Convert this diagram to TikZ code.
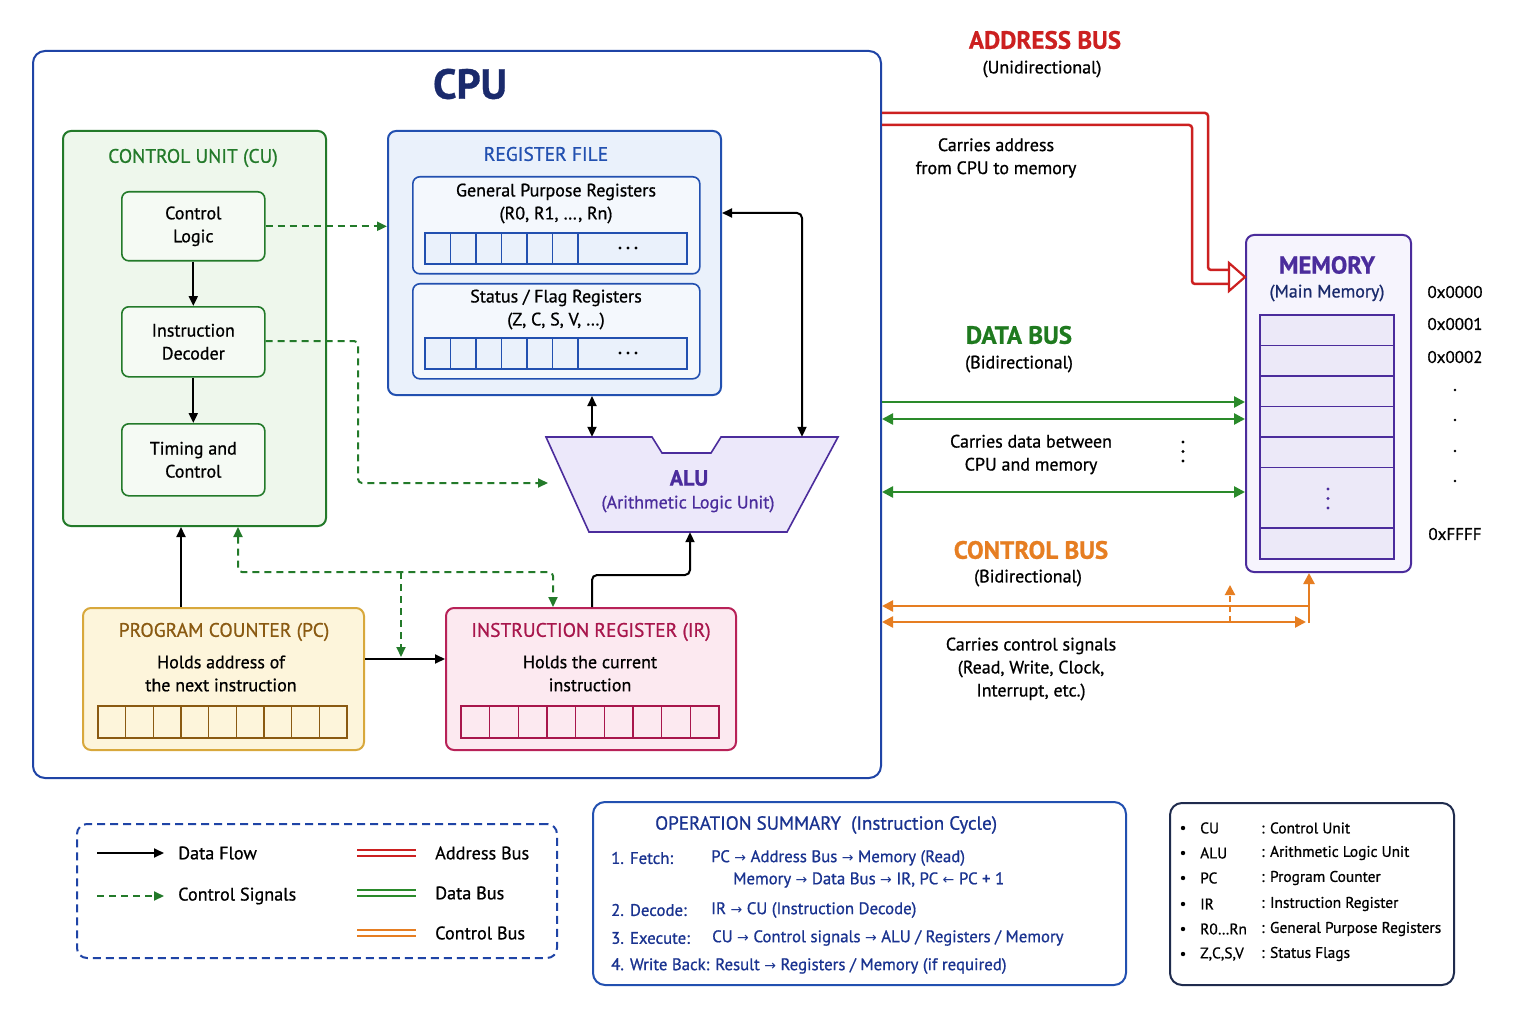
\documentclass[tikz,border=0pt]{standalone}
\usepackage{fontspec}
\setmainfont{PT Sans}[FakeBold=0.8]
\newfontfamily\symf{DejaVu Sans}
\usetikzlibrary{arrows.meta,calc}
\newcommand\ar{{\symf\fontsize{14}{14}\selectfont →}}
\newcommand\al{{\symf\fontsize{14}{14}\selectfont ←}}
\definecolor{cpublue}{HTML}{1F44A6}
\definecolor{navy}{HTML}{1A2A6C}
\definecolor{cugreen}{HTML}{237A2A}
\definecolor{cufill}{HTML}{EEF7EC}
\definecolor{rfblue}{HTML}{2250B0}
\definecolor{rffill}{HTML}{EAF1FB}
\definecolor{alupurple}{HTML}{4B2C9C}
\definecolor{alufill}{HTML}{ECE8FA}
\definecolor{pcgold}{HTML}{D8A83C}
\definecolor{pcfill}{HTML}{FDF5DB}
\definecolor{pctext}{HTML}{8A5A12}
\definecolor{irred}{HTML}{B82258}
\definecolor{irfill}{HTML}{FCE9F0}
\definecolor{irtext}{HTML}{A8164C}
\definecolor{abred}{HTML}{CC2020}
\definecolor{dbgreen}{HTML}{2A8A2A}
\definecolor{dbtitle}{HTML}{1F7A1F}
\definecolor{cborange}{HTML}{E67E22}
\definecolor{memfill}{HTML}{F6F4FD}
\definecolor{cellfill}{HTML}{ECE9F8}
\definecolor{opblue}{HTML}{1A3390}
\definecolor{abbrbox}{HTML}{1F2B4D}
\begin{document}
\begin{tikzpicture}[x=1pt,y=-1pt,
  font=\fontsize{18}{23}\selectfont,
  box/.style={draw, rounded corners=8pt, line width=2pt, anchor=north west, inner sep=0pt},
  ibox/.style={draw, rounded corners=7pt, line width=1.6pt, anchor=north west, inner sep=0pt, align=center},
  head/.style={font=\fontsize{19.5}{22}\selectfont},
  bustitle/.style={font=\bfseries\fontsize{25}{28}\selectfont},
  txt/.style={align=center, inner sep=0pt},
  darr/.style={draw=black, line width=2pt, -{Triangle[length=10pt,width=9pt]}},
  dboth/.style={draw=black, line width=2pt, {Triangle[length=10pt,width=9pt]}-{Triangle[length=10pt,width=9pt]}},
  cdash/.style={draw=cugreen, line width=2pt, dash pattern=on 7pt off 5pt, -{Triangle[length=10pt,width=9pt]}},
  cdboth/.style={draw=cugreen, line width=2pt, dash pattern=on 7pt off 5pt, {Triangle[length=10pt,width=9pt]}-{Triangle[length=10pt,width=9pt]}},
  abus/.style={draw=abred, line width=2.5pt},
  dbus/.style={draw=dbgreen, line width=2.5pt},
  cbus/.style={draw=cborange, line width=2.5pt},
  lbl/.style={anchor=west, inner sep=0pt}
]
\useasboundingbox[fill=white] (0,0) rectangle (1536,1024);

% ---------------- CPU ----------------
\node[box, draw=cpublue, fill=white, rounded corners=12pt, minimum width=848, minimum height=727] (cpu) at (32,50) {};
\node[font=\bfseries\fontsize{42}{44}\selectfont, text=navy, txt] (cputitle) at (470,84) {CPU};

% Control unit
\node[box, draw=cugreen, fill=cufill, minimum width=263, minimum height=395] (cu) at (62,130) {};
\node[head, text=cugreen, txt] (cuttl) at (193,158) {CONTROL UNIT (CU)};
\node[ibox, draw=cugreen, fill=cufill!60!white, minimum width=143, minimum height=69] (cl) at (121,191) {Control\\Logic};
\node[ibox, draw=cugreen, fill=cufill!60!white, minimum width=143, minimum height=70] (id) at (121,306) {Instruction\\Decoder};
\node[ibox, draw=cugreen, fill=cufill!60!white, minimum width=143, minimum height=72] (tc) at (121,423) {Timing and\\Control};
\draw[darr] (cl.south) -- (id.north);
\draw[darr] (id.south) -- (tc.north);

% Register file
\node[box, draw=rfblue, fill=rffill, minimum width=333, minimum height=264] (rf) at (387,130) {};
\node[head, text=rfblue, txt] (rfttl) at (546,154) {REGISTER FILE};
\node[ibox, draw=rfblue, fill=rffill!50!white, minimum width=287, minimum height=97] (gpr) at (412,176) {};
\node[txt] (gprt) at (556,203.5) {General Purpose Registers\\(R0, R1, \dots, Rn)};
\node[ibox, draw=rfblue, fill=rffill!50!white, minimum width=287, minimum height=95] (sfr) at (412,283) {};
\node[txt] (sfrt) at (556,309.5) {Status / Flag Registers\\(Z, C, S, V, \dots)};
\foreach \yy in {233,338}{
  \draw[rfblue, line width=1.3pt, fill=rffill] (425,\yy) rectangle (687,\yy+31);
  \foreach \i in {1,2,3,4,5,6}{ \draw[rfblue, line width=1.3pt] (425+25.5*\i,\yy) -- (425+25.5*\i,\yy+31); }
  \foreach \xx in {620,628,636}{ \fill[black] (\xx,\yy+15) circle (1.6pt); }
}

% ALU
\draw[line width=1.6pt, draw=alupurple, fill=alufill] (546,437) -- (652,437) -- (662,453) -- (711,453) -- (721,437) -- (838,437) -- (787,532) -- (589,532) -- cycle;
\node[minimum width=292, minimum height=95, inner sep=0pt] (alu) at (692,484.5) {};
\node[txt, text=alupurple, font=\bfseries\fontsize{22}{23}\selectfont] (alut) at (689,478) {ALU};
\node[txt, text=alupurple] (alus) at (688,504) {(Arithmetic Logic Unit)};

% PC and IR
\node[box, draw=pcgold, fill=pcfill, minimum width=281, minimum height=142] (pc) at (82,607) {};
\node[head, text=pctext, txt] (pcttl) at (224,632) {PROGRAM COUNTER (PC)};
\node[txt] (pct) at (221,673.5) {Holds address of\\the next instruction};
\draw[pctext, line width=1.2pt] (98,706) rectangle (347,738);
\foreach \i in {1,2,3,4,5,6,7,8}{ \draw[pctext, line width=1.2pt] (98+27.67*\i,706) -- (98+27.67*\i,738); }

\node[box, draw=irred, fill=irfill, minimum width=290, minimum height=142] (ir) at (445,607) {};
\node[head, text=irtext, txt] (irttl) at (591,632) {INSTRUCTION REGISTER (IR)};
\node[txt] (irt) at (590,673.5) {Holds the current\\instruction};
\draw[irtext, line width=1.2pt] (461,706) rectangle (719,738);
\foreach \i in {1,2,3,4,5,6,7,8}{ \draw[irtext, line width=1.2pt] (461+28.67*\i,706) -- (461+28.67*\i,738); }

% internal connectors
\coordinate (x592) at (592,0);
\draw[dboth] (x592 |- rf.south) -- (x592 |- alu.north);
\coordinate (r1) at (802,213);
\draw[dboth, rounded corners=5pt] (rf.east |- r1) -- (r1) -- (r1 |- alu.north);
\draw[cdash] (cl.east) -- (cl.east -| rf.west);
\coordinate (k1) at (358,341);
\coordinate (k2) at (358,483);
\coordinate (k3) at (548,483);
\draw[cdash, rounded corners=4pt] (id.east |- k1) -- (k1) -- (k2) -- (k3);
\coordinate (x181) at (181,0);
\draw[darr] (x181 |- pc.north) -- (x181 |- cu.south);
\coordinate (g1) at (238,572);
\coordinate (g2) at (553,572);
\coordinate (g3) at (401,572);
\coordinate (g4) at (401,657);
\draw[cdboth, rounded corners=4pt] (g1 |- cu.south) -- (g1) -- (g2) -- (g2 |- ir.north);
\draw[cdash] (g3) -- (g4);
\coordinate (p1) at (0,659);
\draw[darr] (pc.east |- p1) -- (ir.west |- p1);
\coordinate (i1) at (592,575);
\coordinate (i2) at (690,575);
\draw[darr, rounded corners=5pt] (i1 |- ir.north) -- (i1) -- (i2) -- (i2 |- alu.south);

% ---------------- Memory ----------------
\node[box, draw=alupurple, fill=memfill, minimum width=165, minimum height=337] (mem) at (1245,234) {};
\node[font=\bfseries\fontsize{24.5}{27}\selectfont, text=alupurple, txt] (memt) at (1327,265) {MEMORY};
\node[txt, text=navy] (mems) at (1327,293) {(Main Memory)};
\draw[alupurple, line width=1.5pt, fill=cellfill] (1260,315) rectangle (1394,559);
\foreach \yy in {345.5,376,406.5,437,467.5,528}{ \draw[alupurple, line width=1.5pt] (1260,\yy) -- (1394,\yy); }
\foreach \yy in {489,498.5,508}{ \fill[alupurple] (1328,\yy) circle (1.7pt); }
\begin{scope}[font=\fontsize{17}{17}\selectfont]
\node[txt] (a0) at (1455,292) {0x0000};
\node[txt] (a1) at (1455,324) {0x0001};
\node[txt] (a2) at (1455,357) {0x0002};
\node[txt] (af) at (1455,534) {0xFFFF};
\end{scope}
\foreach \yy in {390,420,451,481}{ \fill[black] (1455,\yy) circle (1.3pt); }

% ---------------- Address bus ----------------
\node[bustitle, text=abred, txt] (abt) at (1045,40) {ADDRESS BUS};
\node[txt] (abs) at (1042,69) {(Unidirectional)};
\node[txt] (abc) at (996,158) {Carries address\\from CPU to memory};
\coordinate (b1) at (1208,113);
\coordinate (b2) at (1208,270);
\coordinate (b3) at (1192,125);
\coordinate (b4) at (1192,284);
\coordinate (b5) at (1229,270);
\coordinate (b6) at (1229,284);
\draw[abus, rounded corners=3pt] (cpu.east |- b1) -- (b1) -- (b2) -- (b5);
\draw[abus, rounded corners=3pt] (cpu.east |- b3) -- (b3) -- (b4) -- (b6);
\coordinate (b7) at (0,277);
\draw[abred, line width=2.2pt, fill=white, line join=miter] (1229,263) -- (mem.west |- b7) -- (1229,291) -- cycle;

% ---------------- Data bus ----------------
\node[bustitle, text=dbtitle, txt] (dbt) at (1019,335) {DATA BUS};
\node[txt] (dbs) at (1019,364) {(Bidirectional)};
\coordinate (d1) at (0,402);
\coordinate (d2) at (0,419);
\coordinate (d3) at (0,492);
\draw[dbus, -{Triangle[length=11pt,width=11pt]}] (cpu.east |- d1) -- (mem.west |- d1);
\draw[dbus, {Triangle[length=11pt,width=11pt]}-{Triangle[length=11pt,width=11pt]}] (cpu.east |- d2) -- (mem.west |- d2);
\draw[dbus, {Triangle[length=11pt,width=11pt]}-{Triangle[length=11pt,width=11pt]}] (cpu.east |- d3) -- (mem.west |- d3);
\node[txt] (dbc) at (1031,454.5) {Carries data between\\CPU and memory};
\foreach \yy in {442,451.5,461}{ \fill[black] (1183,\yy) circle (1.6pt); }

% ---------------- Control bus ----------------
\node[bustitle, text=cborange, txt] (cbt) at (1031,550) {CONTROL BUS};
\node[txt] (cbs) at (1028,578) {(Bidirectional)};
\coordinate (e1) at (1309,606);
\coordinate (e2) at (1309,623);
\coordinate (e3) at (1306,622);
\coordinate (e4) at (1230,622);
\coordinate (e5) at (1230,585);
\draw[cbus, {Triangle[length=11pt,width=11pt]}-] (cpu.east |- e1) -- (e1);
\draw[cbus, -{Triangle[length=11pt,width=11pt]}] (e2) -- (e1 |- mem.south);
\draw[cbus, {Triangle[length=11pt,width=11pt]}-{Triangle[length=11pt,width=11pt]}] (cpu.east |- e3) -- (e3);
\draw[cbus, line width=2pt, dash pattern=on 6pt off 4pt, -{Triangle[length=10pt,width=10pt]}] (e4) -- (e5);
\node[txt] (cbc) at (1031,669) {Carries control signals\\(Read, Write, Clock,\\Interrupt, etc.)};

% ---------------- Legend ----------------
\node[box, draw=cpublue, fill=white, dash pattern=on 8pt off 5pt, rounded corners=10pt, minimum width=480, minimum height=134] (leg) at (76,823) {};
\begin{scope}[font=\fontsize{18.2}{20}\selectfont]
\coordinate (l1) at (97,853);
\coordinate (l2) at (164,853);
\coordinate (l3) at (97,896);
\coordinate (l4) at (164,896);
\draw[darr] (l1) -- (l2);
\draw[cdash] (l3) -- (l4);
\node[lbl] (lt1) at (178,853) {Data Flow};
\node[lbl] (lt2) at (178,896) {Control Signals};
\draw[abred, line width=2pt] (357,850) -- (416,850) (357,856) -- (416,856);
\draw[dbgreen, line width=2pt] (357,890) -- (416,890) (357,896) -- (416,896);
\draw[cborange, line width=2pt] (357,930) -- (416,930) (357,936) -- (416,936);
\node[lbl] (lt3) at (435,853) {Address Bus};
\node[lbl] (lt4) at (435,893) {Data Bus};
\node[lbl] (lt5) at (435,933) {Control Bus};
\end{scope}

% ---------------- Operation summary ----------------
\node[box, draw=rfblue, fill=white, rounded corners=12pt, minimum width=533, minimum height=183] (op) at (592,801) {};
\begin{scope}[text=opblue, font=\fontsize{16.8}{20}\selectfont]
\node[lbl, font=\fontsize{19}{21}\selectfont] (opt) at (655,825) {OPERATION SUMMARY\ \ (Instruction Cycle)};
\node[lbl] (o1) at (611,858) {1. Fetch:};
\node[lbl] (o1b) at (711,858) {PC \ar{} Address Bus \ar{} Memory (Read)};
\node[lbl] (o1c) at (733,880) {Memory \ar{} Data Bus \ar{} IR, PC \al{} PC + 1};
\node[lbl] (o2) at (611,910) {2. Decode:};
\node[lbl] (o2b) at (711,910) {IR \ar{} CU (Instruction Decode)};
\node[lbl] (o3) at (611,938) {3. Execute:};
\node[lbl] (o3b) at (712,938) {CU \ar{} Control signals \ar{} ALU / Registers / Memory};
\node[lbl] (o4) at (611,966) {4. Write Back: Result \ar{} Registers / Memory (if required)};
\end{scope}

% ---------------- Abbreviations ----------------
\node[box, draw=abbrbox, fill=white, rounded corners=12pt, minimum width=284, minimum height=182] (abbr) at (1169,802) {};
\begin{scope}[font=\fontsize{15.4}{17}\selectfont]
\foreach \yy in {828,853,878,904,929,954}{ \fill (1183,\yy) circle (2.2pt); }
\node[lbl] (ab1) at (1200,828) {CU};
\node[lbl] (ab2) at (1200,853) {ALU};
\node[lbl] (ab3) at (1200,878) {PC};
\node[lbl] (ab4) at (1200,904) {IR};
\node[lbl] (ab5) at (1200,929) {R0\ldots Rn};
\node[lbl] (ab6) at (1200,954) {Z,C,S,V};
\node[lbl] (de1) at (1261,828) {: Control Unit};
\node[lbl] (de2) at (1261,853) {: Arithmetic Logic Unit};
\node[lbl] (de3) at (1261,878) {: Program Counter};
\node[lbl] (de4) at (1261,904) {: Instruction Register};
\node[lbl] (de5) at (1261,929) {: General Purpose Registers};
\node[lbl] (de6) at (1261,954) {: Status Flags};
\end{scope}
\end{tikzpicture}
\end{document}
